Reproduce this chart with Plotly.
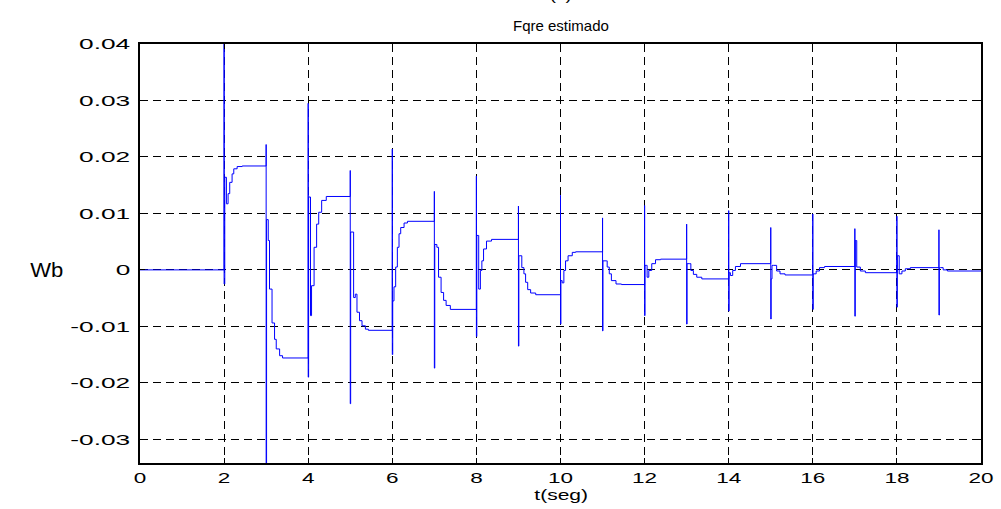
import plotly.graph_objects as go

# Switching instants of the estimator (s)
event_t = [2, 3, 4, 5, 6, 7, 8, 9, 10, 11, 12, 13, 14, 15, 16, 17, 18, 19]

# Upper and lower extremes of the spike produced at each switching instant (Wb)
spike_high = [0.042, 0.0222, 0.0295, 0.0176, 0.0214, 0.0139, 0.0166, 0.0113, 0.0132,
              0.0092, 0.0114, 0.0081, 0.0105, 0.0075, 0.0099, 0.0073, 0.0095, 0.0071]
spike_low = [-0.0025, -0.037, -0.019, -0.0237, -0.015, -0.0174, -0.0118, -0.0135, -0.0096,
             -0.0108, -0.0081, -0.0096, -0.0073, -0.0087, -0.007, -0.0082, -0.0066, -0.008]

# Settling of the estimate after each switching: time offsets (s) and flux values (Wb)
settle_dt = [
    [0.016, 0.055, 0.055, 0.095, 0.134, 0.19, 0.23, 0.31, 0.43],
    [0.01, 0.05, 0.08, 0.14, 0.2, 0.24, 0.32, 0.39],
    [0.01, 0.055, 0.08, 0.14, 0.2, 0.25, 0.32, 0.43],
    [0.01, 0.08, 0.08, 0.12, 0.16, 0.22, 0.28, 0.36, 0.43],
    [0.01, 0.04, 0.08, 0.12, 0.16, 0.2, 0.28, 0.36],
    [0.01, 0.06, 0.10, 0.16, 0.22, 0.28, 0.38],
    [0.01, 0.04, 0.055, 0.095, 0.13, 0.17, 0.24, 0.36],
    [0.01, 0.03, 0.08, 0.13, 0.17, 0.22, 0.29, 0.41],
    [0.01, 0.04, 0.08, 0.12, 0.18, 0.28, 0.36],
    [0.01, 0.09, 0.11, 0.16, 0.21, 0.32, 0.45],
    [0.01, 0.04, 0.06, 0.10, 0.17, 0.26, 0.38],
    [0.01, 0.06, 0.10, 0.16, 0.24, 0.36],
    [0.01, 0.04, 0.095, 0.16, 0.28],
    [0.01, 0.03, 0.06, 0.14, 0.22, 0.34],
    [0.01, 0.03, 0.08, 0.16, 0.28],
    [0.01, 0.04, 0.045, 0.13, 0.25],
    [0.01, 0.05, 0.055, 0.12, 0.2, 0.32],
    [0.01, 0.04, 0.1, 0.2],
]
settle_fq = [
    [0.0164, 0.0164, 0.0117, 0.0135, 0.0155, 0.017, 0.0179, 0.0183, 0.0184],
    [0.0089, 0.0052, -0.0034, -0.0094, -0.0123, -0.014, -0.0152, -0.0156],
    [0.0129, -0.0081, -0.0028, 0.004, 0.0081, 0.0102, 0.0123, 0.013],
    [0.0067, 0.0067, -0.0049, -0.0043, -0.0075, -0.009, -0.0099, -0.0105, -0.0107],
    [-0.0055, -0.003, 0.0005, 0.004, 0.0064, 0.0075, 0.0083, 0.0086],
    [0.0045, 0.004, -0.0013, -0.004, -0.0054, -0.0063, -0.007],
    [0.0061, 0.0061, -0.0034, -0.0001, 0.0016, 0.0037, 0.0051, 0.0054],
    [0.0025, 0.0025, 0.0004, -0.0007, -0.0022, -0.0035, -0.0041, -0.0044],
    [-0.0019, -0.0023, -0.0001, 0.0016, 0.0025, 0.0031, 0.0032],
    [0.0016, 0.0016, 0.0005, -0.0007, -0.0019, -0.0025, -0.0026],
    [0.0008, 0.0008, -0.0013, -0.0001, 0.0011, 0.0018, 0.0019],
    [0.0011, 0.0011, -0.0001, -0.0008, -0.0013, -0.0016],
    [-0.0005, -0.001, -0.0001, 0.0006, 0.0011],
    [-0.0016, 0.0008, 0.0008, -0.0002, -0.0007, -0.0009],
    [-0.0007, -0.0007, -0.0002, 0.0004, 0.0006],
    [0.0052, 0.0052, 0.0005, -0.0002, -0.0005],
    [0.0025, 0.0025, -0.0007, -0.0002, 0.0002, 0.0004],
    [0.0004, 0.0004, 0.0, -0.0002],
]

t_start, t_end = 0.0, 20.0
fq_start = 0.0

x_ticks = [0, 2, 4, 6, 8, 10, 12, 14, 16, 18, 20]
y_ticks = [-0.03, -0.02, -0.01, 0, 0.01, 0.02, 0.03, 0.04]
y_tick_text = ["-0.03", "-0.02", "-0.01", "0", "0.01", "0.02", "0.03", "0.04"]

# Assemble the piecewise trace: hold, spike up, spike down, settle
t_trace = [t_start]
fq_trace = [fq_start]
level = fq_start
for k, tk in enumerate(event_t):
    t_trace += [tk, tk, tk]
    fq_trace += [level, spike_high[k], spike_low[k]]
    for dt, v in zip(settle_dt[k], settle_fq[k]):
        t_trace.append(tk + dt)
        fq_trace.append(v)
    level = settle_fq[k][-1]
t_trace.append(t_end)
fq_trace.append(level)

FONT = "Liberation Sans, Arial, sans-serif"

fig = go.Figure()
fig.add_trace(go.Scatter(
    x=t_trace, y=fq_trace, mode="lines",
    line=dict(color="#0000ff", width=1, shape="hv"),
    showlegend=False, hoverinfo="skip",
))

axis_common = dict(
    showline=True, linecolor="black", linewidth=1.5, mirror="allticks",
    ticks="inside", ticklen=5, tickcolor="black", tickwidth=1,
    showgrid=True, gridcolor="black", gridwidth=1, griddash="8px,5px",
    zeroline=False,
    tickfont=dict(family=FONT, size=15, color="black"),
)

fig.update_layout(
    width=1001, height=509,
    margin=dict(l=140, r=16, t=44, b=46),
    paper_bgcolor="white", plot_bgcolor="white",
    font=dict(family=FONT, color="black"),
    xaxis=dict(range=[0, 20], tickvals=x_ticks, **axis_common),
    yaxis=dict(range=[-0.0342, 0.04], tickvals=y_ticks, ticktext=y_tick_text,
               ticklabelstandoff=5, **axis_common),
    annotations=[
        dict(text="Fqre estimado", xref="paper", yref="paper", x=0.5, y=1.045,
             xanchor="center", yanchor="middle", showarrow=False,
             font=dict(family=FONT, size=15, color="black")),
        dict(text="(c)", xref="paper", yref="paper", x=0.5, y=1.094,
             xanchor="center", yanchor="bottom", showarrow=False,
             font=dict(family=FONT, size=15, color="black")),
        dict(text="Wb", xref="paper", yref="y", x=-0.111, y=0,
             xanchor="center", yanchor="middle", showarrow=False,
             font=dict(family=FONT, size=21, color="black")),
        dict(text="t(seg)", xref="paper", yref="paper", x=0.5, y=-0.076,
             xanchor="center", yanchor="middle", showarrow=False,
             font=dict(family=FONT, size=15, color="black")),
    ],
)

# Horizontally widened lettering for the axis labels
widen_text = """
var gd = document.querySelector('.plotly-graph-div');
function widen(el, f) {
  var w = el.getComputedTextLength();
  if (w > 0 && f !== 1) {
    el.setAttribute('textLength', (w * f).toFixed(2));
    el.setAttribute('lengthAdjust', 'spacingAndGlyphs');
  }
}
gd.querySelectorAll('g.ytick text').forEach(function (el) { widen(el, 1.75); });
gd.querySelectorAll('g.xtick text').forEach(function (el) { widen(el, 1.5); });
var annFactor = {'t(seg)': 1.4, 'Fqre estimado': 1.0, '(c)': 1.3, 'Wb': 1.05};
gd.querySelectorAll('text.annotation-text').forEach(function (el) {
  var f = annFactor[el.textContent];
  if (f) { widen(el, f); }
});
"""

fig.write_html("out.html", post_script=widen_text)
